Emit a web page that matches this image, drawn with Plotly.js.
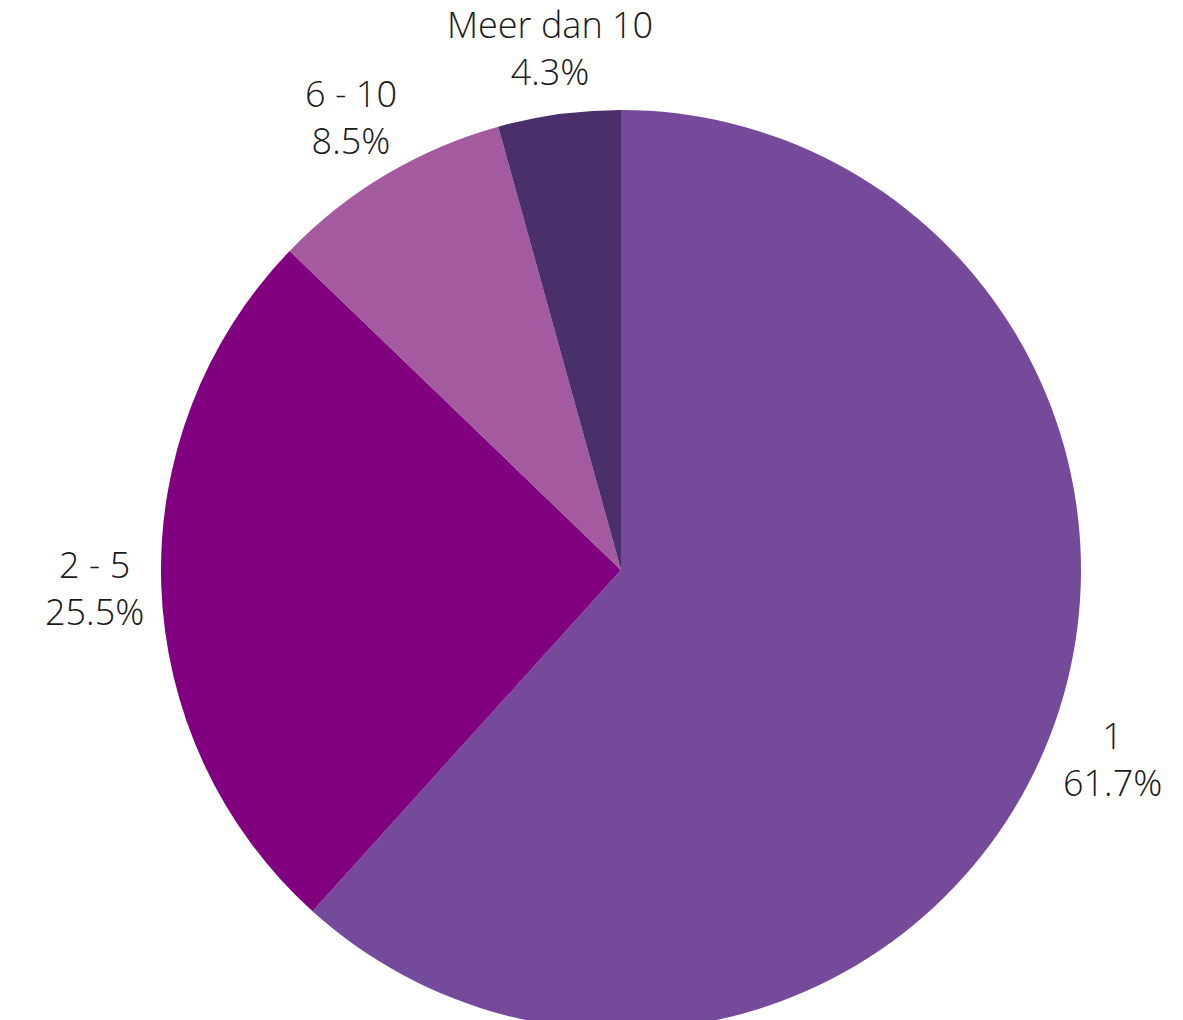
<!DOCTYPE html>
<html>
<head>
<meta charset="utf-8">
<script src="https://cdn.plot.ly/plotly-3.0.1.min.js"></script>
<style>html,body{margin:0;padding:0;overflow:hidden;background:#fff;}</style>
</head>
<body>
<div id="chart"></div>
<script>
const labels = ["1", "2 - 5", "6 - 10", "Meer dan 10"];
const values = [61.7, 25.5, 8.5, 4.3];
const colors = ["#764A9B", "#800080", "#A35A9E", "#4A306A"];

const total = values.reduce((a, b) => a + b, 0);
const labelFont = {family: "Open Sans Light, Open Sans", size: 36, weight: 300, color: "#1a1a1a"};
const labelRadius = 1.145; // relative to pie radius

const annotations = [];
let cum = 0;
values.forEach((v, i) => {
  const frac = v / total;
  const mid = (cum + frac / 2) * 2 * Math.PI; // clockwise from top
  cum += frac;
  annotations.push({
    xref: "paper", yref: "paper",
    x: 0.5 + 0.5 * labelRadius * Math.sin(mid),
    y: 0.5 + 0.5 * labelRadius * Math.cos(mid),
    showarrow: false, xanchor: "center", yanchor: "middle", align: "center",
    font: labelFont,
    text: labels[i] + "<br>" + (frac * 100).toFixed(1) + "%"
  });
});

Plotly.newPlot("chart", [{
  type: "pie",
  labels: labels,
  values: values,
  sort: false,
  direction: "clockwise",
  rotation: 0,
  marker: {colors: colors, line: {width: 0}},
  textinfo: "none",
  hoverinfo: "none"
}], {
  width: 1183,
  height: 1030,
  margin: {l: 161, r: 102, t: 110, b: 0},
  showlegend: false,
  annotations: annotations,
  paper_bgcolor: "#fff",
  plot_bgcolor: "#fff"
}, {displayModeBar: false, staticPlot: true});
</script>
</body>
</html>
